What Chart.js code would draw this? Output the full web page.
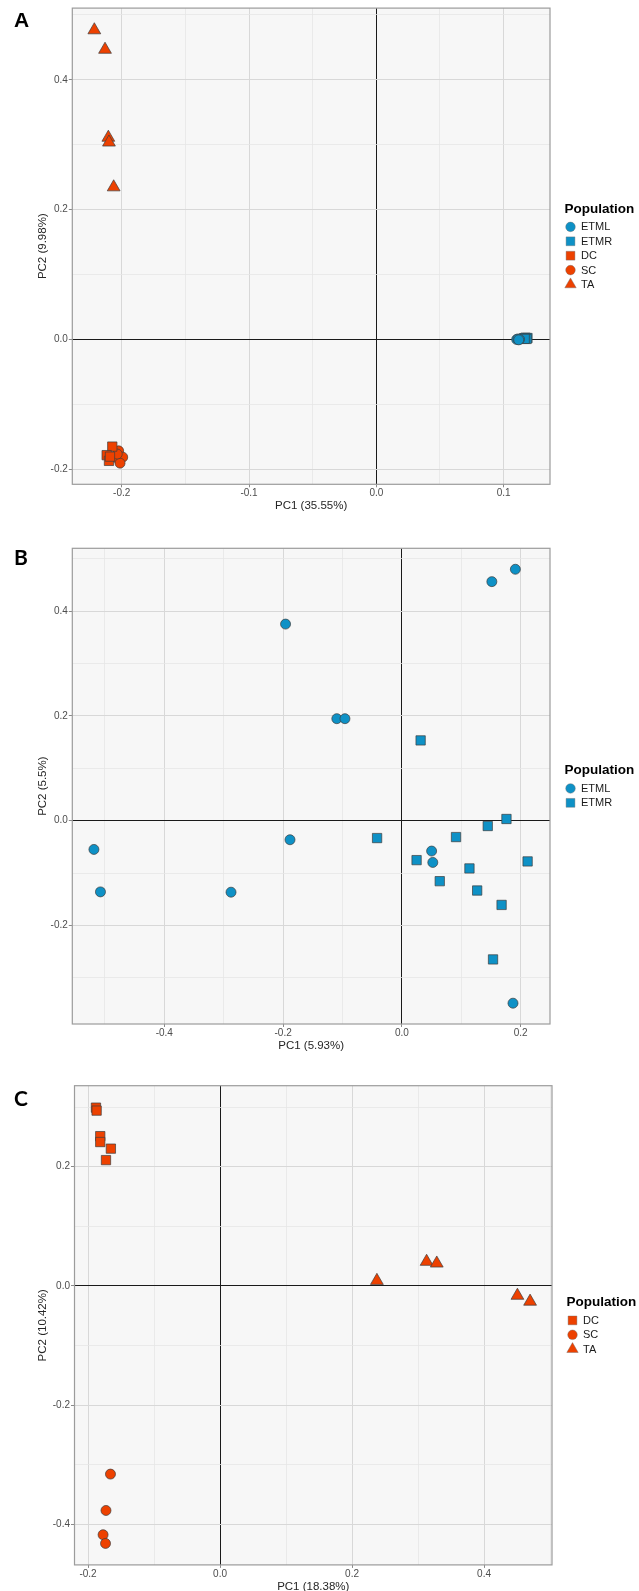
<!DOCTYPE html>
<html>
<head>
<meta charset="utf-8">
<title>PCA plots</title>
<script src="https://cdn.jsdelivr.net/npm/chart.js@4.4.1/dist/chart.umd.min.js"></script>
<style>
  html, body { margin: 0; padding: 0; background: #fff; }
  body { width: 639px; height: 1591px; position: relative; overflow: hidden; }
  canvas { position: absolute; left: 0; }
</style>
</head>
<body>
<canvas id="chartA" width="639" height="520" style="top:0px"></canvas>
<canvas id="chartB" width="639" height="540" style="top:520px"></canvas>
<canvas id="chartC" width="639" height="550" style="top:1050px"></canvas>
<script>
// ---- data (PC1, PC2) ----
// panel A
const aETML = [[0.1102, 0.0000], [0.1112, 0.0008], [0.1125, 0.0003], [0.1118, -0.0006]];
const aETMR = [[0.1160, 0.0018], [0.1172, 0.0027], [0.1187, 0.0022], [0.1180, 0.0008], [0.1165, 0.0010]];
const aDC = [[-0.2074, -0.1650], [-0.2118, -0.1782], [-0.2100, -0.1870], [-0.2092, -0.1805]];
const aSC = [[-0.2024, -0.1716], [-0.2045, -0.1819], [-0.1992, -0.1813], [-0.2013, -0.1905], [-0.2035, -0.1765]];
const aTA = [[-0.2215, 0.4765], [-0.2131, 0.4465], [-0.2105, 0.3110], [-0.2100, 0.3036], [-0.2063, 0.2346]];

// panel B
const bETML = [[0.191, 0.4797], [0.1514, 0.4561], [-0.1959, 0.3751], [-0.1096, 0.1946], [-0.0959, 0.1946],
  [-0.1884, -0.0364], [-0.5185, -0.0549], [-0.5075, -0.1359], [-0.2877, -0.1365], [0.050, -0.058],
  [0.052, -0.0797], [0.187, -0.3483]];
const bETMR = [[0.0315, 0.1531], [-0.0418, -0.0332], [0.176, 0.0032], [0.1445, -0.0102], [0.0911, -0.0313],
  [0.0247, -0.0753], [0.2116, -0.0778], [0.1137, -0.0912], [0.0637, -0.1155], [0.1267, -0.1333],
  [0.1678, -0.1608], [0.1534, -0.2648]];

// panel C
const cDC = [[-0.1880, 0.2990], [-0.1870, 0.2940], [-0.1815, 0.2512], [-0.1815, 0.2413], [-0.1654, 0.2302], [-0.1728, 0.2110]];
const cSC = [[-0.1660, -0.3157], [-0.1728, -0.3767], [-0.1772, -0.4174], [-0.1735, -0.4320]];
const cTA = [[0.2377, 0.0087], [0.3130, 0.0407], [0.3284, 0.0378], [0.4506, -0.0163], [0.4698, -0.0262]];

// ---- axes: ranges and tick values ----
const aXRange = [-0.2388, 0.1364], aYRange = [-0.2231, 0.5104];
const aXMajor = [-0.2, -0.1, 0, 0.1], aXMinor = [-0.15, -0.05, 0.05];
const aYMajor = [-0.2, 0, 0.2, 0.4], aYMinor = [-0.1, 0.1, 0.3, 0.5];

const bXRange = [-0.5549, 0.2493], bYRange = [-0.388, 0.5197];
const bXMajor = [-0.4, -0.2, 0, 0.2], bXMinor = [-0.5, -0.3, -0.1, 0.1];
const bYMajor = [-0.2, 0, 0.2, 0.4], bYMinor = [-0.3, -0.1, 0.1, 0.3, 0.5];

const cXRange = [-0.2205, 0.503], cYRange = [-0.468, 0.3358];
const cXMajor = [-0.2, 0, 0.2, 0.4], cXMinor = [-0.1, 0.1, 0.3, 0.5];
const cYMajor = [-0.4, -0.2, 0, 0.2], cYMinor = [-0.3, -0.1, 0.1, 0.3];

const BLUE = '#0e91c6';
const RED = '#ed4100';
const FONT = '"Liberation Sans", Arial, sans-serif';
const RADII = { circle: 5.0, rect: 6.6, triangle: 7.4 };

function near(list, v) {
  return list.some(m => Math.abs(m - v) < 1e-9);
}

function axis(kind, range, majors, minors, title, size) {
  const all = majors.concat(minors).sort((a, b) => a - b);
  return {
    type: 'linear',
    position: kind === 'x' ? 'bottom' : 'left',
    min: range[0],
    max: range[1],
    afterBuildTicks: s => { s.ticks = all.map(v => ({ value: v })); },
    afterFit: s => { if (kind === 'x') s.height = size; else s.width = size; },
    border: { display: false },
    grid: {
      color: c => {
        if (!c.tick) return '#d8d8d8';
        if (Math.abs(c.tick.value) < 1e-9) return '#1a1a1a';
        return near(majors, c.tick.value) ? '#d8d8d8' : '#e6e6e6';
      },
      lineWidth: c => (c.tick && !near(majors, c.tick.value)) ? 0.8 : 1,
      tickColor: c => (c.tick && near(majors, c.tick.value)) ? '#8a8a8a' : 'rgba(0,0,0,0)',
      tickWidth: 1,
      tickLength: kind === 'x' ? 3 : 3.5
    },
    ticks: {
      autoSkip: false,
      maxRotation: 0,
      padding: kind === 'x' ? 0 : 1,
      color: '#4d4d4d',
      font: { family: FONT, size: 10 },
      callback: v => near(majors, v) ? v.toFixed(1) : ''
    },
    title: { display: true, text: title, color: '#262626', font: { family: FONT, size: 11.5 }, padding: 0 }
  };
}

function drawKey(ctx, shape, x, y, color) {
  ctx.beginPath();
  if (shape === 'circle') {
    ctx.arc(x, y, 4.8, 0, Math.PI * 2);
  } else if (shape === 'rect') {
    ctx.rect(x - 4.4, y - 4.4, 8.8, 8.8);
  } else {
    const r = 6.6;
    ctx.moveTo(x, y - r);
    ctx.lineTo(x + r * 0.866, y + r / 2);
    ctx.lineTo(x - r * 0.866, y + r / 2);
    ctx.closePath();
  }
  ctx.fillStyle = color;
  ctx.fill();
  ctx.lineWidth = 0.4;
  ctx.strokeStyle = '#6a6a6a';
  ctx.stroke();
}

const panelDecor = {
  id: 'panelDecor',
  beforeDraw(chart) {
    const { ctx, chartArea: a } = chart;
    ctx.save();
    ctx.fillStyle = '#f7f7f7';
    ctx.fillRect(a.left, a.top, a.right - a.left, a.bottom - a.top);
    ctx.restore();
  },
  afterDraw(chart, args, opts) {
    const { ctx, chartArea: a } = chart;
    ctx.save();
    ctx.strokeStyle = '#9c9c9c';
    ctx.lineWidth = 1.2;
    ctx.strokeRect(a.left, a.top, a.right - a.left, a.bottom - a.top);

    // panel letter
    ctx.fillStyle = '#000';
    ctx.textAlign = 'left';
    ctx.textBaseline = 'alphabetic';
    ctx.font = opts.tagFont;
    ctx.fillText(opts.tag, 14, opts.tagY);

    // legend, centred on the panel
    const sets = chart.data.datasets;
    const titleY = (a.top + a.bottom) / 2 - sets.length * 7.2 - 1;
    ctx.textBaseline = 'middle';
    ctx.font = 'bold 13.5px ' + FONT;
    ctx.fillText('Population', a.right + 14.5, titleY);
    ctx.font = '11px ' + FONT;
    sets.forEach((ds, i) => {
      const y = titleY + 17.7 + i * 14.4;
      drawKey(ctx, ds.pointStyle, a.right + 20.5, y, ds.backgroundColor);
      ctx.fillStyle = '#1a1a1a';
      ctx.fillText(ds.label, a.right + 31, y + 0.5);
    });
    ctx.restore();
  }
};

function makeChart(id, p) {
  const xAxisH = 28.4, yTitleSpace = 36.1;
  return new Chart(document.getElementById(id), {
    type: 'scatter',
    data: {
      datasets: p.series.map(s => ({
        label: s.label,
        data: s.points.map(q => ({ x: q[0], y: q[1] })),
        pointStyle: s.shape,
        pointRadius: RADII[s.shape],
        pointHoverRadius: RADII[s.shape],
        backgroundColor: s.color,
        pointBackgroundColor: s.color,
        borderColor: '#3d3d3d',
        pointBorderColor: '#3d3d3d',
        pointBorderWidth: 0.7
      }))
    },
    options: {
      responsive: false,
      animation: false,
      devicePixelRatio: 1,
      events: [],
      layout: {
        padding: {
          left: yTitleSpace,
          top: p.area.top - p.canvasTop,
          right: 639 - p.area.right,
          bottom: p.canvasHeight - (p.area.bottom - p.canvasTop) - xAxisH
        }
      },
      plugins: {
        legend: { display: false },
        tooltip: { enabled: false },
        panelDecor: { tag: p.tag, tagY: p.tagY, tagFont: p.tagFont }
      },
      scales: {
        x: axis('x', p.xRange, p.xMajor, p.xMinor, p.xTitle, xAxisH),
        y: axis('y', p.yRange, p.yMajor, p.yMinor, p.yTitle, p.area.left - yTitleSpace)
      }
    },
    plugins: [panelDecor]
  });
}

makeChart('chartA', {
  tag: 'A', tagY: 26.7, tagFont: 'bold 21px ' + FONT,
  canvasTop: 0, canvasHeight: 520,
  area: { left: 72.3, right: 550, top: 8, bottom: 484.3 },
  xRange: aXRange, yRange: aYRange,
  xMajor: aXMajor, xMinor: aXMinor, yMajor: aYMajor, yMinor: aYMinor,
  xTitle: 'PC1 (35.55%)', yTitle: 'PC2 (9.98%)',
  series: [
    { label: 'ETML', points: aETML, shape: 'circle', color: BLUE },
    { label: 'ETMR', points: aETMR, shape: 'rect', color: BLUE },
    { label: 'DC', points: aDC, shape: 'rect', color: RED },
    { label: 'SC', points: aSC, shape: 'circle', color: RED },
    { label: 'TA', points: aTA, shape: 'triangle', color: RED }
  ]
});

makeChart('chartB', {
  tag: 'B', tagY: 45, tagFont: 'bold 21px Lato, ' + FONT,
  canvasTop: 520, canvasHeight: 540,
  area: { left: 72.3, right: 550, top: 548.3, bottom: 1024 },
  xRange: bXRange, yRange: bYRange,
  xMajor: bXMajor, xMinor: bXMinor, yMajor: bYMajor, yMinor: bYMinor,
  xTitle: 'PC1 (5.93%)', yTitle: 'PC2 (5.5%)',
  series: [
    { label: 'ETML', points: bETML, shape: 'circle', color: BLUE },
    { label: 'ETMR', points: bETMR, shape: 'rect', color: BLUE }
  ]
});

makeChart('chartC', {
  tag: 'C', tagY: 55.5, tagFont: 'bold 21px Lato, ' + FONT,
  canvasTop: 1050, canvasHeight: 550,
  area: { left: 74.5, right: 552, top: 1085.7, bottom: 1564.9 },
  xRange: cXRange, yRange: cYRange,
  xMajor: cXMajor, xMinor: cXMinor, yMajor: cYMajor, yMinor: cYMinor,
  xTitle: 'PC1 (18.38%)', yTitle: 'PC2 (10.42%)',
  series: [
    { label: 'DC', points: cDC, shape: 'rect', color: RED },
    { label: 'SC', points: cSC, shape: 'circle', color: RED },
    { label: 'TA', points: cTA, shape: 'triangle', color: RED }
  ]
});
</script>
</body>
</html>
